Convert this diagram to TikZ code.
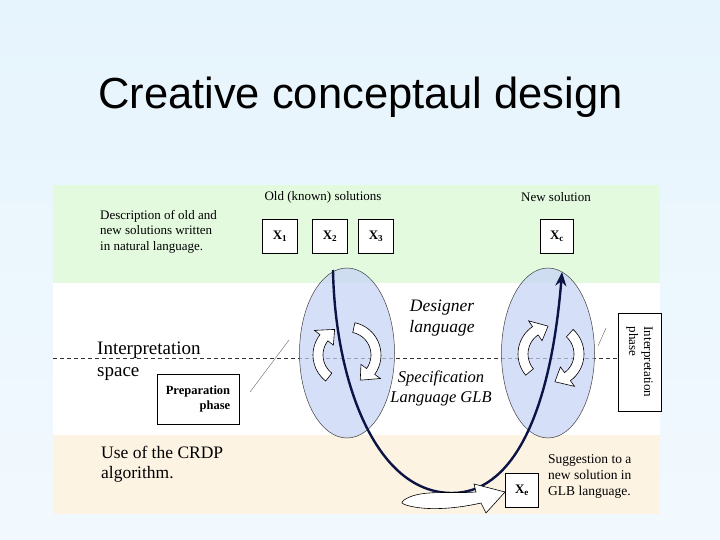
\documentclass[tikz,border=0pt]{standalone}
\usepackage{fontspec}
\setmainfont{Liberation Serif}
\newfontfamily\titlefont{Liberation Sans}
\usetikzlibrary{positioning,shapes,arrows.meta,calc}

\definecolor{bgtop}{HTML}{E6F4FD}
\definecolor{bgbot}{HTML}{F2F9FE}
\definecolor{oldband}{HTML}{E3FADF}
\definecolor{algband}{HTML}{FDF3E3}
\definecolor{langfill}{HTML}{C6D2F6}
\definecolor{pathcol}{HTML}{0B1444}

\tikzset{
  solbox/.style={draw, line width=0.8pt, fill=white, minimum width=35, minimum height=34, inner sep=0pt, font=\fontsize{13}{13}\selectfont\bfseries},
  phasebox/.style={draw, line width=0.6pt, fill=white, inner sep=0pt},
  lang/.style={ellipse, draw=black!75, line width=0.5pt, fill=langfill, fill opacity=0.7, text opacity=1, minimum width=95, minimum height=170},
  turn/.style={fill=white, draw=black, line width=0.6pt},
  pathline/.style={draw=pathcol, line width=2.4pt, -{Stealth[length=14pt,width=11pt]}},
  dline/.style={dashed, line width=0.6pt, dash pattern=on 4pt off 3pt, black!80},
  pointer/.style={line width=0.4pt, black!60},
}

\newcommand{\turnarrow}[5]{% centre, from, to, tip angle, radius
  \begin{scope}[shift={#1}]
    \filldraw[turn] plot[domain=#2:#3, samples=18] (\x:#5+5)
      -- (#3:#5+12) -- (#4:#5) -- (#3:#5-12)
      -- plot[domain=#3:#2, samples=18] (\x:#5-5) -- cycle;
  \end{scope}}

\begin{document}
\begin{tikzpicture}[x=1pt, y=-1pt]
    \useasboundingbox (0,0) rectangle (720,540);
    \shade[top color=bgtop, bottom color=bgbot] (0,0) rectangle (720,540);
    \node[font=\titlefont\fontsize{43.5}{50}\selectfont, anchor=base] at (360.5,109) (title) {Creative conceptaul design};

    % bands
    \fill[oldband] (53,185) rectangle (660,283);
    \fill[white] (53,283) rectangle (660,435);
    \fill[algband] (53,435) rectangle (660,514);

    % solutions
    \node[anchor=base, font=\fontsize{13}{15}\selectfont] at (323,201) (oldlbl) {Old (known) solutions};
    \node[anchor=base, font=\fontsize{13}{15}\selectfont] at (556,202) (newlbl) {New solution};
    \node[solbox] at (280,236) (x1) {X\textsubscript{1}};
    \node[solbox] at (330,236) (x2) {X\textsubscript{2}};
    \node[solbox] at (376,236) (x3) {X\textsubscript{3}};
    \node[solbox, minimum width=33] at (557,236) (xc) {X\textsubscript{c}};
    \node[solbox, minimum width=33] at (522,490) (xe) {X\textsubscript{e}};

    \node[anchor=north west, align=left, inner sep=0pt, font=\fontsize{13}{15.5}\selectfont] at (100,210) (desc) {Description of old and\\new solutions written\\in natural language.};
    \node[anchor=north west, align=left, inner sep=0pt, font=\fontsize{19}{22}\selectfont] at (97,342) (space) {Interpretation\\space};
    \node[anchor=north west, align=left, inner sep=0pt, font=\fontsize{17.5}{19.5}\selectfont] at (101,446) (crdp) {Use of the CRDP\\algorithm.};
    \node[anchor=north west, align=left, inner sep=0pt, font=\fontsize{13.5}{16}\selectfont] at (548,454) (sugg) {Suggestion to a\\new solution in\\GLB language.};

    % dashed border of the interpretation space
    \node[phasebox, rotate=-90, minimum width=98, minimum height=43, align=left, font=\fontsize{13}{15}\selectfont] at (639.5,362) (interp) {Interpretation\\phase};
    \coordinate (dl) at (53,358);
    \draw[dline] (dl) -- (dl -| interp.south);

    \node[phasebox, minimum width=82, minimum height=50, align=right, font=\fontsize{12.5}{15}\selectfont\bfseries] at (198,399) (prep) {Preparation\\phase};
    \coordinate (pp1) at (250,392);
    \coordinate (pp2) at (289,340);
    \draw[pointer] (pp1) -- (pp2);
    \coordinate (ip1) at (598,346);
    \coordinate (ip2) at (606,328);
    \draw[pointer] (ip1) -- (ip2);

    % language ellipses
    \node[lang] at (347,353) (oldsp) {};
    \node[lang, minimum width=93] at (548,353) (newsp) {};

    \node[font=\fontsize{17.5}{21}\selectfont\itshape, align=center] at (442,318) (designer) {Designer\\language};
    \node[font=\fontsize{16.5}{20}\selectfont\itshape, align=center] at (441,388) (glb) {Specification\\Language GLB};

    % the way from old to new solution
    \coordinate (oldtop) at (333,270);
    \coordinate (lowpt) at (452,493);
    \coordinate (newtop) at (562,272);
    \draw[pathline] (oldtop) .. controls (335,380) and (375,493) .. (lowpt)
        .. controls (510,493) and (550,420) .. (newtop);

    \turnarrow{(346,355)}{128}{218}{246}{28}
    \turnarrow{(348,355)}{-78}{36}{64}{28}
    \turnarrow{(551,354)}{140}{236}{264}{28}
    \turnarrow{(551,354)}{-48}{54}{82}{28}

    % swoosh into X_e
    \filldraw[turn] (404,500) .. controls (420,489) and (450,494) .. (476,492)
        -- (474,484) -- (505,492) -- (486,513) -- (481,503)
        .. controls (455,509) and (425,511) .. (406,505) .. controls (401,503) .. cycle;
\end{tikzpicture}
\end{document}
